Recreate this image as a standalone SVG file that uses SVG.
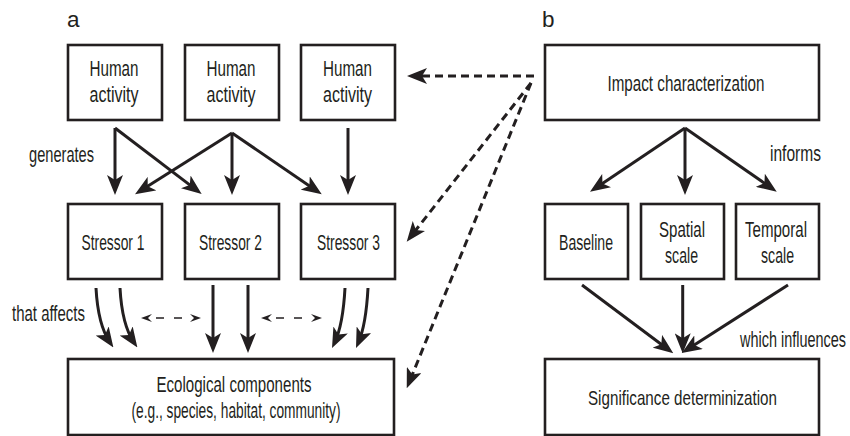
<svg xmlns="http://www.w3.org/2000/svg" width="850" height="436" viewBox="0 0 850 436">
<style>
  .box { fill: #ffffff; stroke: #231f20; stroke-width: 2.6; }
  .t { font-family: "Liberation Sans", Arial, sans-serif; font-size: 22.5px; fill: #231f20; text-anchor: middle; }
  .lbl { font-family: "Liberation Sans", Arial, sans-serif; font-size: 22.5px; fill: #231f20; }
  .ar { fill: none; stroke: #231f20; stroke-width: 3; marker-end: url(#ah); }
  .da { fill: none; stroke: #231f20; stroke-width: 3; stroke-dasharray: 8 5; marker-end: url(#ah); }
  .dd { fill: none; stroke: #231f20; stroke-width: 1.6; stroke-dasharray: 0 9 8 10 8 100; marker-start: url(#sm); marker-end: url(#sm); }
</style>
<defs>
  <marker id="ah" markerUnits="userSpaceOnUse" viewBox="0 0 20 16" markerWidth="20" markerHeight="16" refX="14" refY="8" orient="auto">
    <path d="M0,0 L20,8 L0,16 L5,8 Z" fill="#231f20"/>
  </marker>
  <marker id="sm" markerUnits="userSpaceOnUse" viewBox="0 0 11 8" markerWidth="11" markerHeight="8" refX="5" refY="4" orient="auto-start-reverse">
    <path d="M0,0 L11,4 L0,8 L4,4 Z" fill="#231f20"/>
  </marker>
</defs>
<rect width="850" height="436" fill="#ffffff"/>

<text class="lbl" x="67" y="27">a</text>
<text class="lbl" x="542" y="27">b</text>

<g id="human1">
  <rect class="box" x="68" y="45" width="94" height="75"/>
  <text class="t" x="114" y="76" textLength="49" lengthAdjust="spacingAndGlyphs">Human</text>
  <text class="t" x="114" y="102" textLength="49" lengthAdjust="spacingAndGlyphs">activity</text>
</g>
<g id="human2">
  <rect class="box" x="185" y="45" width="94" height="75"/>
  <text class="t" x="231" y="76" textLength="49" lengthAdjust="spacingAndGlyphs">Human</text>
  <text class="t" x="231" y="102" textLength="49" lengthAdjust="spacingAndGlyphs">activity</text>
</g>
<g id="human3">
  <rect class="box" x="301" y="45" width="94" height="75"/>
  <text class="t" x="347.5" y="76" textLength="49" lengthAdjust="spacingAndGlyphs">Human</text>
  <text class="t" x="347.5" y="102" textLength="49" lengthAdjust="spacingAndGlyphs">activity</text>
</g>
<g id="stressor1">
  <rect class="box" x="68" y="204" width="94" height="75"/>
  <text class="t" x="113" y="250" textLength="63" lengthAdjust="spacingAndGlyphs">Stressor 1</text>
</g>
<g id="stressor2">
  <rect class="box" x="185" y="204" width="94" height="75"/>
  <text class="t" x="230.5" y="250" textLength="63" lengthAdjust="spacingAndGlyphs">Stressor 2</text>
</g>
<g id="stressor3">
  <rect class="box" x="301" y="204" width="94" height="75"/>
  <text class="t" x="348.5" y="250" textLength="63" lengthAdjust="spacingAndGlyphs">Stressor 3</text>
</g>
<g id="ecological">
  <rect class="box" x="68" y="359" width="326" height="76"/>
  <text class="t" x="234" y="392" textLength="155" lengthAdjust="spacingAndGlyphs">Ecological components</text>
  <text class="t" x="236" y="418" textLength="209" lengthAdjust="spacingAndGlyphs">(e.g., species, habitat, community)</text>
</g>
<g id="impact">
  <rect class="box" x="545" y="45" width="274" height="75"/>
  <text class="t" x="686" y="91" textLength="157" lengthAdjust="spacingAndGlyphs">Impact characterization</text>
</g>
<g id="baseline">
  <rect class="box" x="545" y="204" width="83" height="75"/>
  <text class="t" x="586" y="250" textLength="54" lengthAdjust="spacingAndGlyphs">Baseline</text>
</g>
<g id="spatial">
  <rect class="box" x="641" y="204" width="83" height="75"/>
  <text class="t" x="682" y="237" textLength="46" lengthAdjust="spacingAndGlyphs">Spatial</text>
  <text class="t" x="681.5" y="263" textLength="33" lengthAdjust="spacingAndGlyphs">scale</text>
</g>
<g id="temporal">
  <rect class="box" x="736" y="204" width="83" height="75"/>
  <text class="t" x="776" y="237" textLength="62" lengthAdjust="spacingAndGlyphs">Temporal</text>
  <text class="t" x="777.5" y="263" textLength="33" lengthAdjust="spacingAndGlyphs">scale</text>
</g>
<g id="significance">
  <rect class="box" x="545" y="359" width="274" height="76"/>
  <text class="t" x="682.5" y="405" style="font-size:21px" textLength="189" lengthAdjust="spacingAndGlyphs">Significance determinization</text>
</g>

<g id="edge-labels">
  <text class="lbl" x="29" y="162" textLength="65" lengthAdjust="spacingAndGlyphs">generates</text>
  <text class="lbl" x="12" y="321" textLength="73" lengthAdjust="spacingAndGlyphs">that affects</text>
  <text class="lbl" x="770" y="161" textLength="51" lengthAdjust="spacingAndGlyphs">informs</text>
  <text class="lbl" x="740" y="347" textLength="106" lengthAdjust="spacingAndGlyphs">which influences</text>
</g>

<g id="connectors">
  <!-- human activity to stressors -->
  <path class="ar" d="M115,128 L115,189"/>
  <path class="ar" d="M115,128 L196.9,190.4"/>
  <path class="ar" d="M232,133 L140.1,191.1"/>
  <path class="ar" d="M232,133 L232,189"/>
  <path class="ar" d="M232,133 L316.8,190.9"/>
  <path class="ar" d="M348,128 L348,189"/>
  <!-- stressors to ecological components -->
  <path class="ar" d="M96,288 Q98,325 110,342.5"/>
  <path class="ar" d="M120,288 Q122,325 134,342.5"/>
  <path class="ar" d="M213,285 L213,347"/>
  <path class="ar" d="M248,285 L248,347"/>
  <path class="ar" d="M345,288 Q343,325 334.6,342.6"/>
  <path class="ar" d="M368,288 Q366,325 358.4,342.5"/>
  <!-- interaction double arrows -->
  <path class="dd" d="M147,318 L195,318"/>
  <path class="dd" d="M267,318 L316,318"/>
  <!-- impact characterization to panel a -->
  <path class="da" d="M534,76 L413,76"/>
  <path class="da" d="M531,83 L410.4,237"/>
  <path class="da" d="M531,83 L409,382.8"/>
  <!-- impact characterization to factors -->
  <path class="ar" d="M685,128 L595,188.4"/>
  <path class="ar" d="M685,128 L685,189"/>
  <path class="ar" d="M685,128 L771.8,188.3"/>
  <!-- factors to significance -->
  <path class="ar" d="M582,285 L668.5,349.7"/>
  <path class="ar" d="M682.7,285 L682.7,347.3"/>
  <path class="ar" d="M788,285 L686.8,349.8"/>
</g>
</svg>
